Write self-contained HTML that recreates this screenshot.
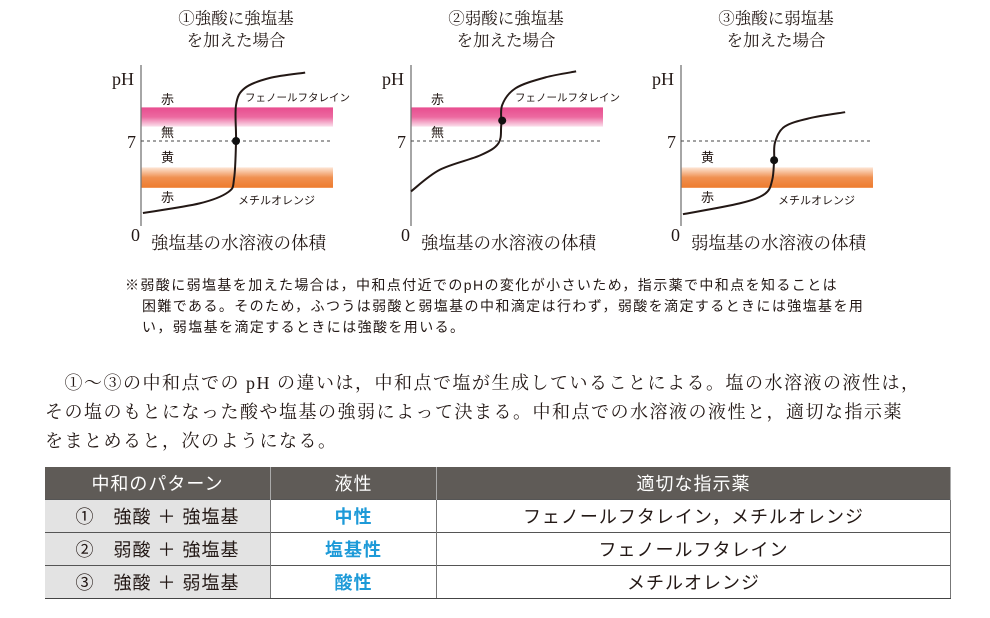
<!DOCTYPE html>
<html><head><meta charset="utf-8"><style>
body{margin:0;width:990px;height:618px;background:#fff;font-family:"Liberation Serif","Noto Serif CJK SC","Noto Sans CJK JP",serif;color:#231815;position:relative;overflow:hidden}
.note{position:absolute;left:125px;top:275px;width:800px;font-size:14px;letter-spacing:1.4px;line-height:21px;font-family:"Liberation Sans","Noto Sans CJK JP",sans-serif;color:#231815;white-space:nowrap}
.note p{margin:0;padding-left:17px;text-indent:-17px}
.body{position:absolute;left:45px;top:369px;width:940px;font-size:18px;letter-spacing:1.5px;line-height:29px;font-family:"Liberation Serif","Noto Serif CJK SC",serif;white-space:nowrap}
table{position:absolute;left:45px;top:467px;width:906px;border-collapse:collapse;font-family:"Liberation Sans","Noto Sans CJK JP",sans-serif;font-size:18px;letter-spacing:1px}
th{background:#5f5b57;color:#fff;font-weight:normal;height:30px;border-right:1px solid #aaa}
td{height:30px;border-top:1px solid #555;text-align:center;border-right:1px solid #777}
td.c1{background:#e3e3e3;width:223px}
td.c2{color:#1d9ad8;width:163px;font-weight:bold}
tr:last-child td{border-bottom:1px solid #444}
</style></head><body>
<svg id="charts" width="990" height="262" style="position:absolute;left:0;top:0" font-family="Liberation Serif, Noto Serif CJK SC, serif">
<defs>
<linearGradient id="pink" x1="0" y1="0" x2="0" y2="1"><stop offset="0" stop-color="#e84d8f"/><stop offset="0.5" stop-color="#ec6aa0"/><stop offset="1" stop-color="#fbe0ec"/></linearGradient>
<linearGradient id="orange" x1="0" y1="1" x2="0" y2="0"><stop offset="0" stop-color="#ee7b2e"/><stop offset="0.5" stop-color="#f09050"/><stop offset="1" stop-color="#fde6d6"/></linearGradient>
</defs>
</svg>
<div class="note"><p>※弱酸に弱塩基を加えた場合は，中和点付近でのpHの変化が小さいため，指示薬で中和点を知ることは<br>困難である。そのため，ふつうは弱酸と弱塩基の中和滴定は行わず，弱酸を滴定するときには強塩基を用<br>い，弱塩基を滴定するときには強酸を用いる。</p></div>
<div class="body">　①～③の中和点での pH の違いは，中和点で塩が生成していることによる。塩の水溶液の液性は，<br>その塩のもとになった酸や塩基の強弱によって決まる。中和点での水溶液の液性と，適切な指示薬<br>をまとめると，次のようになる。</div>
<table>
<tr><th>中和のパターン</th><th>液性</th><th>適切な指示薬</th></tr>
<tr><td class="c1">①　強酸 ＋ 強塩基</td><td class="c2">中性</td><td>フェノールフタレイン，メチルオレンジ</td></tr>
<tr><td class="c1">②　弱酸 ＋ 強塩基</td><td class="c2">塩基性</td><td>フェノールフタレイン</td></tr>
<tr><td class="c1">③　強酸 ＋ 弱塩基</td><td class="c2">酸性</td><td>メチルオレンジ</td></tr>
</table>
<script>
// curve data: volume (0-20) and pH (0-14)
const vol1=[0.2,6.1,9.1,9.7,9.9,9.9,10.8,13.4,17.1];
const ph1=[1.0,1.8,2.75,3.9,7,10,11.4,12.25,12.7];
const vol2=[0,3,7.2,9.1,9.4,9.5,10.9,14,17.2];
const ph2=[2.8,4.6,5.8,6.8,8.3,10,11.4,12.3,12.8];
const vol3=[0.2,6.1,8.75,9.5,9.7,9.8,10.8,13.4,17.1];
const ph3=[0.9,1.8,2.6,3.75,5.4,6.9,8.2,8.9,9.4];
const eqVol=[9.9,9.5,9.7];
const eqPh=[7,8.7,5.4];
const titles=[["①強酸に強塩基","を加えた場合"],["②弱酸に強塩基","を加えた場合"],["③強酸に弱塩基","を加えた場合"]];
const xTitles=["強塩基の水溶液の体積","強塩基の水溶液の体積","弱塩基の水溶液の体積"];
const phenol=[8.2,9.8], methyl=[3.1,4.8];
const NS="http://www.w3.org/2000/svg";
const svg=document.getElementById('charts');
function mk(tag,attrs,parent){const e=document.createElementNS(NS,tag);for(const k in attrs)e.setAttribute(k,attrs[k]);(parent||svg).appendChild(e);return e;}
function txt(s,x,y,size,anchor,fam,parent){const t=mk('text',{x:x,y:y,'font-size':size,'text-anchor':anchor||'start',fill:'#231815'},parent);if(fam)t.setAttribute('font-family',fam);t.textContent=s;return t;}
const sans="Liberation Sans, Noto Sans CJK JP, sans-serif";
const serifJ="Liberation Serif, Noto Serif CJK SC, serif";
const vols=[vol1,vol2,vol3], phs=[ph1,ph2,ph3];
for(let c=0;c<3;c++){
  const ox=141+270*c;
  const X=v=>ox+v*9.6, Y=p=>225-p*12;
  const g=mk('g',{});
  
  
  const t1=txt(titles[c][0],ox+95,24,16.5,'middle',serifJ,g);
  
  
  txt(titles[c][1],ox+95,46,16.5,'middle',serifJ,g);
  if(c<2){const r=mk('rect',{x:ox,y:Y(phenol[1]),width:X(20)-ox,height:Y(phenol[0])-Y(phenol[1]),fill:'url(#pink)'},g);
    }
  if(c!==1){const r=mk('rect',{x:ox,y:Y(methyl[1]),width:X(20)-ox,height:Y(methyl[0])-Y(methyl[1]),fill:'url(#orange)'},g);
    }
  mk('line',{x1:ox,y1:65,x2:ox,y2:226,stroke:'#777','stroke-width':1.3},g);
  const d=mk('line',{x1:ox,y1:Y(7),x2:X(20),y2:Y(7),stroke:'#444','stroke-width':1,'stroke-dasharray':'3,3'},g);
  
  txt('pH',ox-29,85,18,'start',serifJ,g);
  txt('7',ox-14,Y(7)+7,18,'start',serifJ,g);
  txt('0',ox-10,241,18,'start',serifJ,g);
  const xt=txt(xTitles[c],ox+10,249,17.5,'start',serifJ,g);
  
  if(c<2){txt('赤',ox+20,104,13,'start',sans,g);txt('無',ox+20,137,13,'start',sans,g);
    txt('フェノールフタレイン',ox+104,101,10.5,'start',sans,g);}
  if(c!==1){txt('黄',ox+20,162,13,'start',sans,g);txt('赤',ox+20,202,13,'start',sans,g);
    txt('メチルオレンジ',ox+97,204,11,'start',sans,g);}
  const P=vols[c].map((v,i)=>[X(v),Y(phs[c][i])]);
  let s='M'+P[0][0]+','+P[0][1];
  for(let i=0;i<P.length-1;i++){const p0=P[Math.max(0,i-1)],p1=P[i],p2=P[i+1],p3=P[Math.min(P.length-1,i+2)];
    s+=' C'+(p1[0]+(p2[0]-p0[0])/6)+','+(p1[1]+(p2[1]-p0[1])/6)+' '+(p2[0]-(p3[0]-p1[0])/6)+','+(p2[1]-(p3[1]-p1[1])/6)+' '+p2[0]+','+p2[1];}
  const cv=mk('path',{d:s,fill:'none',stroke:'#231815','stroke-width':2},g);
  
  const dot=mk('circle',{cx:X(eqVol[c]),cy:Y(eqPh[c]),r:4,fill:'#111'},g);
  
}
</script>
</body></html>
